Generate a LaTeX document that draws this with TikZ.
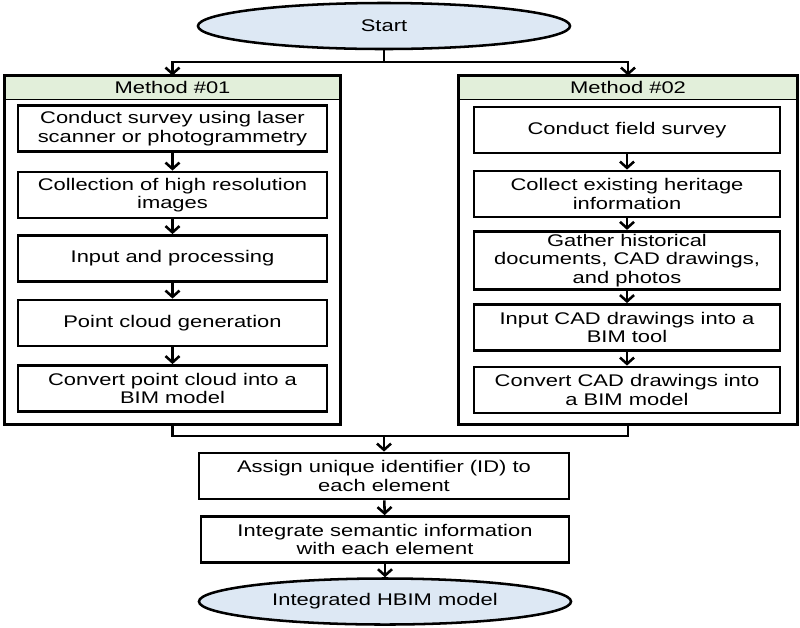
\documentclass[tikz,border=0pt]{standalone}
\usepackage{fontspec}
\setmainfont[FakeStretch=1.3]{Liberation Sans}
\usepackage{tikz}
\usetikzlibrary{arrows.meta,shapes.geometric}
\definecolor{termblue}{HTML}{DDE8F4}
\definecolor{headgreen}{HTML}{E2EFDA}
\tikzset{
  flownode/.style = {align=center, inner sep=0pt, text centered,
    font=\fontsize{12}{13.2}\selectfont},
  fl_term/.style = {flownode, ellipse, draw=black, fill=termblue,
    line width=1.8pt, minimum width=9.3cm, minimum height=1.15cm},% start / end
  fl_step/.style = {flownode, rectangle, draw=black, line width=2pt,
    minimum height=1.15cm, inner ysep=2pt},% one step
  fl_frame/.style = {rectangle, draw=black, line width=2.1pt,
    minimum height=8.7cm},% method frame
  fl_head/.style = {flownode, rectangle, draw=black, fill=headgreen,
    line width=0.6pt, minimum height=0.575cm}% method title
}
\begin{document}
\begin{tikzpicture}[x=0.025cm, y=-0.025cm, line width=1.8pt,
  >={Straight Barb[length=4.5pt,width=10pt]}]
  \useasboundingbox (0,0) rectangle (800,627);
  \node [fl_term] (start) at (384,26) {Start};

  % method 01
  \node [fl_head, minimum width=8.375cm] (h1) at (172.5,87.5) {Method \#01};
  \node [fl_frame, minimum width=8.375cm] (m1) at (172.5,250) {};
  \node [fl_step, minimum width=7.725cm] (a1) at (172.5,128.5) {Conduct survey using laser\\scanner or photogrammetry};
  \node [fl_step, minimum width=7.725cm] (a2) at (172.5,195) {Collection of high resolution\\images};
  \node [fl_step, minimum width=7.725cm] (a3) at (172.5,258.5) {Input and processing};
  \node [fl_step, minimum width=7.725cm] (a4) at (172.5,323) {Point cloud generation};
  \node [fl_step, minimum width=7.725cm] (a5) at (172.5,388.5) {Convert point cloud into a\\BIM model};

  % method 02
  \node [fl_head, minimum width=8.45cm] (h2) at (628,87.5) {Method \#02};
  \node [fl_frame, minimum width=8.45cm] (m2) at (628,250) {};
  \node [fl_step, minimum width=7.65cm] (b1) at (627,130) {Conduct field survey};
  \node [fl_step, minimum width=7.65cm] (b2) at (627,194) {Collect existing heritage\\information};
  \node [fl_step, minimum width=7.65cm] (b3) at (627,260.5) {Gather historical\\documents, CAD drawings,\\and photos};
  \node [fl_step, minimum width=7.65cm] (b4) at (627,327.5) {Input CAD drawings into a\\BIM tool};
  \node [fl_step, minimum width=7.65cm] (b5) at (627,390) {Convert CAD drawings into\\a BIM model};

  % common steps
  \node [fl_step, minimum width=9.25cm] (c1) at (384,476) {Assign unique identifier (ID) to\\each element};
  \node [fl_step, minimum width=9.2cm] (c2) at (385,539.5) {Integrate semantic information\\with each element};
  \node [fl_term] (end) at (385,601.5) {Integrated HBIM model};

  \coordinate (split) at (384,62);
  \coordinate (merge) at (384,436);
  \draw (start) -- (split);
  \draw [->] (split) -| (h1);
  \draw [->] (split) -| (h2);
  \foreach \from/\to in {a1/a2,a2/a3,a3/a4,a4/a5,b1/b2,b2/b3,b3/b4,b4/b5,c1/c2,c2/end}
    \draw [->] (\from) -- (\to);
  \draw (m1) |- (merge);
  \draw (m2) |- (merge);
  \draw [->] (merge) -- (c1);
\end{tikzpicture}
\end{document}
